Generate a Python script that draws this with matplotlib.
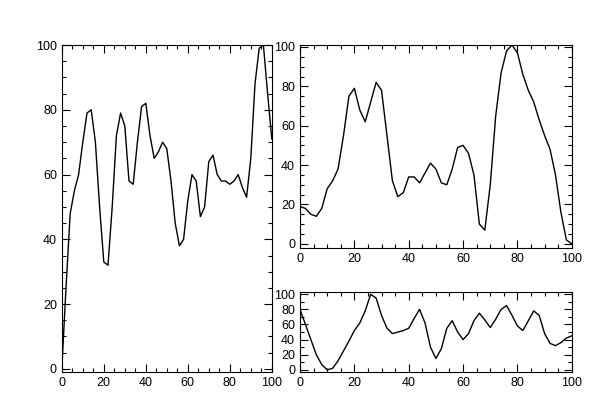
import matplotlib
matplotlib.use("Agg")
import matplotlib.pyplot as plt
from matplotlib.ticker import MultipleLocator

plt.rcParams['font.family'] = ['Liberation Sans', 'DejaVu Sans']

x = list(range(0, 101, 2))

left_y = [0, 25, 48, 55, 60, 70, 79, 80, 70, 50, 33, 32, 50, 72, 79, 75, 58, 57,
          70, 81, 82, 72, 65, 67, 70, 68, 58, 45, 38, 40, 52, 60, 58, 47, 50, 64,
          66, 60, 58, 58, 57, 58, 60, 56, 53, 65, 88, 99, 100, 85, 71]

top_y = [19, 18, 15, 14, 18, 28, 32, 38, 55, 75, 79, 68, 62, 72, 82, 78, 55, 32,
         24, 26, 34, 34, 31, 36, 41, 38, 31, 30, 38, 49, 50, 46, 35, 10, 7, 30,
         65, 87, 98, 101, 97, 86, 78, 72, 63, 55, 48, 35, 16, 2, 0]

bottom_y = [80, 60, 40, 20, 7, 0, 2, 12, 25, 38, 52, 62, 78, 100, 95, 72, 55, 48,
            50, 52, 55, 68, 80, 62, 30, 15, 28, 55, 65, 50, 40, 48, 65, 75, 66, 56,
            67, 80, 85, 72, 58, 52, 65, 78, 72, 48, 35, 32, 36, 42, 45]

fig = plt.figure(figsize=(6, 4.13), dpi=100)
ax1 = fig.add_axes([0.103, 0.099, 0.35, 0.792])
ax2 = fig.add_axes([0.5, 0.4, 0.453, 0.491])
ax3 = fig.add_axes([0.5, 0.099, 0.453, 0.194])

def style(ax, ymax, ymaj, ymin):
    ax.set_xlim(0, 100)
    ax.set_ylim(-2 if ymax > 0 else 0, ymax)
    ax.xaxis.set_major_locator(MultipleLocator(20))
    ax.xaxis.set_minor_locator(MultipleLocator(5))
    ax.yaxis.set_major_locator(MultipleLocator(ymaj))
    ax.yaxis.set_minor_locator(MultipleLocator(ymin))
    ax.tick_params(which='both', direction='in', top=True, right=True, labelsize=9, width=0.8)
    ax.tick_params(which='major', length=6)
    ax.tick_params(which='minor', length=3)
    for s in ax.spines.values():
        s.set_linewidth(0.8)

ax1.plot(x, left_y, color='black', lw=1)
style(ax1, 100, 20, 5)
ax1.set_ylim(-1, 100)
ax2.plot(x, top_y, color='black', lw=1)
style(ax2, 101, 20, 5)
ax3.plot(x, bottom_y, color='black', lw=1)
style(ax3, 103, 20, 10)
ax3.set_ylim(-3, 103)

fig.savefig("out.png", dpi=100)
